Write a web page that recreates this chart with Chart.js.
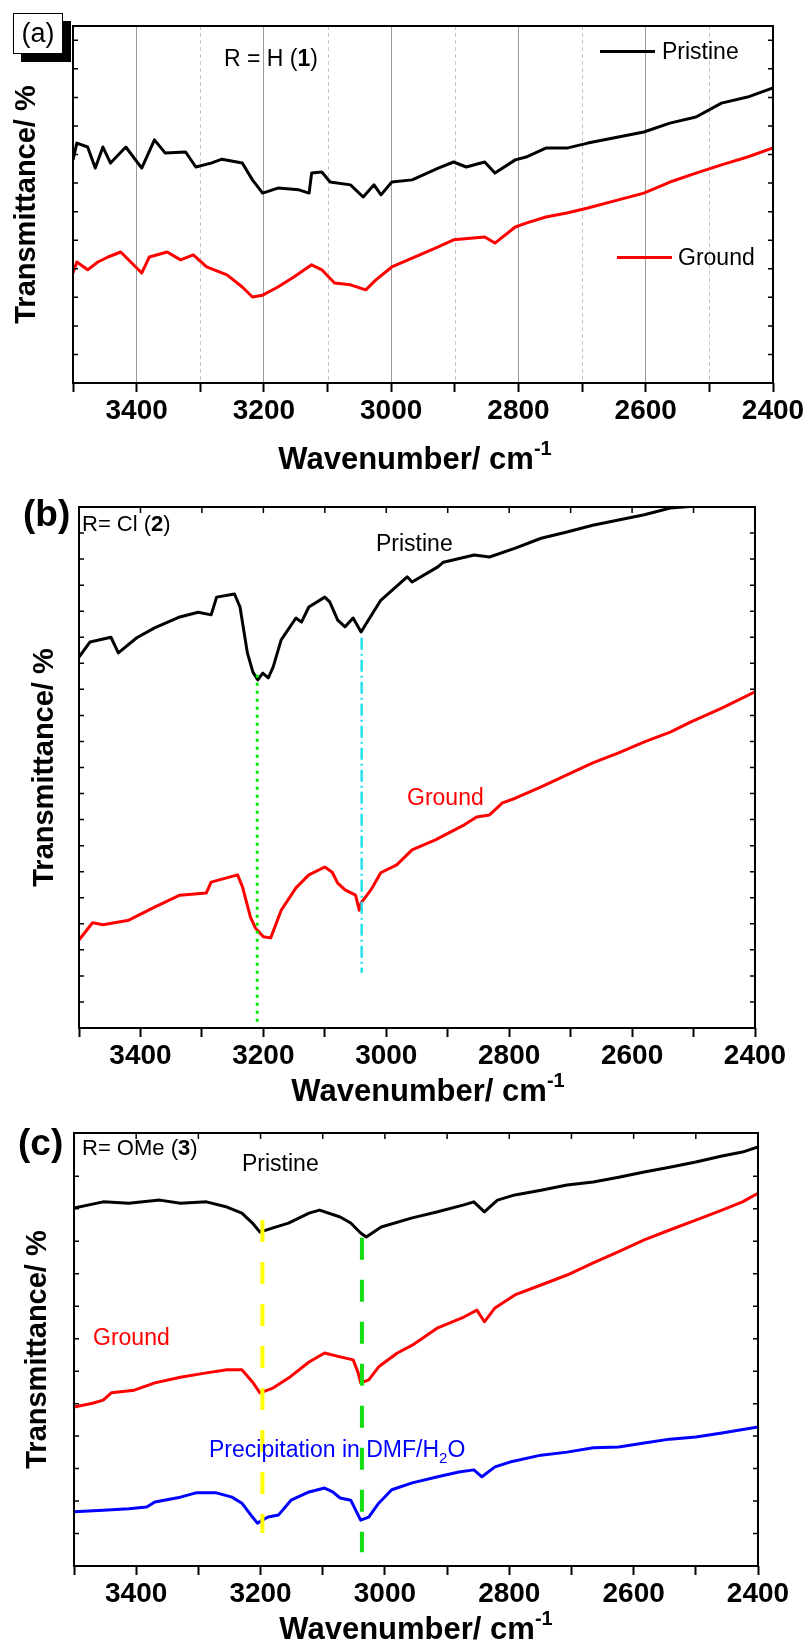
<!DOCTYPE html>
<html>
<head>
<meta charset="utf-8">
<script src="https://cdn.jsdelivr.net/npm/chart.js@4.4.1/dist/chart.umd.min.js"></script>
<style>
  html, body { margin: 0; padding: 0; background: #fff; }
  body { width: 808px; height: 1645px; position: relative; overflow: hidden;
         font-family: "Liberation Sans", Arial, sans-serif; }
  canvas { position: absolute; left: 0; }
  .t { position: absolute; white-space: nowrap; line-height: 1; color: #000; transform: translateY(-50%); }
  .xt { font-weight: bold; font-size: 31px; transform: translate(-50%, -50%); }
  .xt sup { font-size: 20px; vertical-align: 0; position: relative; top: -14px; }
  .ln { position: absolute; height: 3px; }
  .box { position: absolute; left: 13px; top: 13px; width: 50px; height: 41px; box-sizing: border-box;
         border: 1px solid #000; background: #fff; box-shadow: 8px 8px 0 #000;
         font-size: 27px; line-height: 39px; text-align: center; }
  sub { font-size: 15px; vertical-align: 0; position: relative; top: 6px; }
</style>
</head>
<body>
<canvas id="chartA" width="808" height="480" style="top:0px"></canvas>
<canvas id="chartB" width="808" height="635" style="top:480px"></canvas>
<canvas id="chartC" width="808" height="530" style="top:1115px"></canvas>

<div class="box">(a)</div>
<div class="t" style="left:224px;top:58px;font-size:23px">R = H (<b>1</b>)</div>
<div class="ln" style="left:600px;top:50px;width:55px;background:#000"></div>
<div class="t" style="left:662px;top:51px;font-size:23px">Pristine</div>
<div class="ln" style="left:617px;top:256px;width:55px;background:#f00"></div>
<div class="t" style="left:678px;top:257px;font-size:23px">Ground</div>
<div class="t xt" style="left:415px;top:458px">Wavenumber/ cm<sup>-1</sup></div>

<div class="t" style="left:23px;top:513px;font-size:37px;font-weight:bold">(b)</div>
<div class="t" style="left:82px;top:524px;font-size:22px">R= Cl (<b>2</b>)</div>
<div class="t" style="left:376px;top:543px;font-size:23px">Pristine</div>
<div class="t" style="left:407px;top:797px;font-size:23px;color:#f00">Ground</div>
<div class="t xt" style="left:428px;top:1090px">Wavenumber/ cm<sup>-1</sup></div>

<div class="t" style="left:18px;top:1142px;font-size:37px;font-weight:bold">(c)</div>
<div class="t" style="left:82px;top:1148px;font-size:22px">R= OMe (<b>3</b>)</div>
<div class="t" style="left:242px;top:1163px;font-size:23px">Pristine</div>
<div class="t" style="left:93px;top:1337px;font-size:23px;color:#f00">Ground</div>
<div class="t" style="left:209px;top:1449px;font-size:23px;color:#00f">Precipitation in DMF/H<sub>2</sub>O</div>
<div class="t xt" style="left:416px;top:1628px">Wavenumber/ cm<sup>-1</sup></div>

<script>
// x axis: wavenumber (cm-1), y: transmittance (a.u., % of panel height)
const xTickStep = 100;
const minorGridA = [3300, 3100, 2900, 2700, 2500];

// (a) R = H
const aPristineWn = [3500,3494,3477,3465,3453,3441,3417,3392,3372,3355,3323,3307,3283,3266,3234,3218,3202,3178,3145,3129,3125,3109,3096,3064,3044,3027,3016,2999,2967,2926,2902,2882,2853,2837,2805,2788,2757,2724,2691,2643,2603,2562,2521,2481,2440,2401];
const aPristineT  = [62.5,67.2,66.1,60.2,66.1,61.6,66.1,60.2,68.1,64.4,64.7,60.5,61.6,62.7,61.6,56.9,53.2,54.6,54.1,53.2,58.8,59.1,56.3,55.5,52.1,55.5,52.7,56.3,56.9,60.2,61.9,60.5,61.9,58.8,62.5,63.3,65.8,65.8,67.2,68.9,70.3,72.8,74.5,78.4,80.1,82.6];
const aGroundWn = [3500,3494,3477,3461,3445,3425,3392,3380,3352,3331,3311,3290,3258,3234,3218,3202,3178,3153,3125,3109,3089,3064,3040,3024,2999,2967,2926,2902,2853,2837,2805,2788,2757,2724,2691,2643,2603,2562,2521,2481,2440,2401];
const aGroundT  = [30.8,33.9,31.7,33.9,35.3,36.7,30.8,35.3,36.7,34.5,35.9,32.5,30.3,26.9,24.1,24.6,26.9,29.7,33.1,31.7,28.0,27.5,26.1,28.9,32.5,35.0,38.1,40.1,40.9,39.2,43.7,44.8,46.5,47.6,49.0,51.3,53.2,56.3,58.8,61.1,63.3,65.8];

// (b) R = Cl
const bPristineWn = [3500,3482,3448,3436,3406,3377,3336,3306,3285,3276,3247,3238,3226,3217,3209,3201,3192,3184,3171,3147,3138,3126,3100,3092,3079,3067,3054,3041,3029,3009,2966,2958,2916,2907,2857,2832,2790,2748,2706,2664,2622,2580,2538,2496];
const bPristineT  = [71.2,74.1,75.0,72.0,74.9,76.8,78.9,79.8,79.3,82.7,83.3,80.8,72.0,68.3,66.8,68.1,67.2,69.3,74.5,78.7,77.9,80.8,82.7,81.8,78.3,77.0,78.7,76.0,78.3,82.1,86.6,85.6,88.5,89.4,90.8,90.4,92.1,94.0,95.2,96.5,97.5,98.5,99.8,100.2];
const bGroundWn = [3500,3478,3461,3419,3377,3336,3293,3285,3242,3234,3221,3213,3200,3188,3171,3147,3126,3100,3088,3079,3067,3050,3044,3041,3025,3009,2983,2958,2920,2899,2873,2853,2832,2811,2790,2748,2706,2664,2622,2580,2538,2505,2454,2400];
const bGroundT  = [16.9,20.2,19.8,20.7,23.2,25.5,25.9,28.0,29.4,27.1,21.3,19.2,17.5,17.3,22.6,26.9,29.4,30.9,29.9,27.8,26.5,25.5,22.6,24.0,26.5,29.8,31.3,34.2,36.1,37.4,39.0,40.5,40.9,43.2,44.1,46.3,48.6,50.9,52.8,54.9,56.8,58.7,61.4,64.5];
const bMarkWn   = [3210, 3040];
const bMarkFrom = [67.8, 74.9];
const bMarkTo   = [0.5, 10.6];

// (c) R = OMe
const cPristineWn = [3500,3453,3412,3362,3329,3287,3254,3230,3213,3201,3180,3155,3122,3105,3072,3055,3039,3030,3006,2956,2915,2873,2857,2840,2819,2791,2749,2707,2665,2624,2583,2542,2500,2458,2425,2400];
const cPristineT  = [82.7,84.1,83.8,84.5,83.8,84.1,82.9,81.5,79.2,77.1,78.1,79.2,81.5,82.2,80.6,79.2,76.9,76.0,78.3,80.4,81.8,83.4,84.1,81.8,84.5,85.7,86.8,88.0,88.7,89.8,91.0,92.1,93.3,94.7,95.6,96.8];
const cGroundWn = [3500,3470,3453,3440,3403,3370,3329,3287,3254,3230,3213,3201,3180,3155,3122,3097,3072,3051,3043,3039,3026,3010,2980,2956,2915,2873,2852,2840,2823,2791,2749,2707,2665,2624,2583,2542,2500,2458,2425,2400];
const cGroundT  = [36.7,37.6,38.3,40.0,40.6,42.3,43.6,44.6,45.3,45.3,42.5,40.0,41.1,43.4,47.1,49.2,48.3,47.6,44.6,42.3,43.0,46.0,49.2,51.0,55.0,57.5,59.1,56.4,59.6,62.6,64.9,67.2,70.0,72.6,75.3,77.6,79.9,82.2,84.1,86.1];
const cPrecipWn = [3500,3453,3412,3383,3370,3329,3304,3271,3246,3230,3213,3205,3188,3171,3151,3122,3097,3084,3072,3055,3047,3039,3026,3010,2989,2956,2915,2881,2857,2844,2823,2799,2749,2707,2665,2624,2583,2542,2500,2458,2400];
const cPrecipT  = [12.5,12.9,13.2,13.6,14.8,15.9,16.9,16.9,15.9,14.5,11.3,9.9,11.3,11.8,15.2,17.1,18.0,17.1,15.7,15.2,12.9,10.6,11.3,14.5,17.6,19.2,20.6,21.7,22.2,20.6,22.9,24.0,25.6,26.3,27.3,27.5,28.4,29.3,29.8,30.7,32.1];
const cMarkWn   = [3197, 3037];
const cMarkFrom = [79.9, 75.8];
const cMarkTo   = [7.6, 3.2];

const FONT = '"Liberation Sans", Arial, sans-serif';
Chart.defaults.font.family = FONT;

function pts(wn, t) {
  return wn.map((w, i) => ({ x: w, y: t[i] }));
}
function curve(wn, t, color) {
  return { data: pts(wn, t), borderColor: color, borderWidth: 3, pointRadius: 0, tension: 0,
           borderJoinStyle: 'round', order: 1 };
}
function marker(wn, from, to, color, dash, width) {
  return { data: [{ x: wn, y: from }, { x: wn, y: to }], borderColor: color, borderWidth: width,
           borderDash: dash, pointRadius: 0, order: 0 };
}

// closed frame, inward ticks on the other sides, dashed minor grid
const frameBox = {
  id: 'frameBox',
  beforeDatasetsDraw(chart, args, o) {
    if (!o.minorGrid) return;
    const { ctx, chartArea: a, scales: { x } } = chart;
    ctx.save();
    ctx.strokeStyle = '#c4c4c4';
    ctx.lineWidth = 1;
    ctx.setLineDash([4, 3]);
    o.minorGrid.forEach(v => {
      const px = Math.round(x.getPixelForValue(v)) + 0.5;
      ctx.beginPath(); ctx.moveTo(px, a.top); ctx.lineTo(px, a.bottom); ctx.stroke();
    });
    ctx.restore();
  },
  afterDatasetsDraw(chart, args, o) {
    const { ctx, chartArea: a, scales: { x, y } } = chart;
    ctx.save();
    ctx.strokeStyle = '#000';
    ctx.lineWidth = 1.5;
    ctx.beginPath();
    y.ticks.forEach(t => {
      const py = y.getPixelForValue(t.value);
      ctx.moveTo(a.left, py); ctx.lineTo(a.left + 5, py);
      ctx.moveTo(a.right - 5, py); ctx.lineTo(a.right, py);
    });
    if (o.topTicks) {
      x.ticks.forEach(t => {
        const px = x.getPixelForValue(t.value);
        ctx.moveTo(px, a.top); ctx.lineTo(px, a.top + 6);
      });
    }
    ctx.stroke();
    ctx.lineWidth = 2;
    ctx.strokeRect(a.left, a.top, a.right - a.left, a.bottom - a.top);
    ctx.restore();
  }
};

function makeChart(id, p) {
  new Chart(document.getElementById(id), {
    type: 'line',
    data: { datasets: p.datasets },
    plugins: [frameBox],
    options: {
      responsive: false,
      animation: false,
      layout: { padding: { top: p.top, right: p.right, left: 0, bottom: 0 } },
      plugins: {
        legend: { display: false },
        tooltip: { enabled: false },
        frameBox: { minorGrid: p.minorGrid || null, topTicks: !p.minorGrid }
      },
      scales: {
        x: {
          type: 'linear', reverse: true, min: 2400, max: 3500,
          ticks: {
            stepSize: xTickStep, autoSkip: false, maxRotation: 0, padding: 2, color: '#000',
            font: { size: 28, weight: 'bold' },
            callback: v => (v % 200 === 0 ? String(v) : '')
          },
          grid: {
            drawOnChartArea: !!p.minorGrid,
            color: c => (c.tick && c.tick.value % 200 === 0 && c.tick.value !== 2400 ? '#9a9a9a' : 'rgba(0,0,0,0)'),
            lineWidth: 1, tickColor: '#000', tickLength: 9, tickWidth: 2
          },
          border: { display: false },
          afterFit: s => { s.height = p.xh; }
        },
        y: {
          min: 0, max: 100,
          ticks: { display: false, stepSize: p.yStep },
          grid: { display: false },
          border: { display: false },
          title: { display: true, text: 'Transmittance/ %', color: '#000',
                   font: { size: 29, weight: 'bold' }, padding: { top: p.titlePad, bottom: 0 } },
          afterFit: s => { s.width = p.left; }
        }
      }
    }
  });
}

makeChart('chartA', {
  top: 26, right: 35, left: 73, xh: 97, yStep: 8, titlePad: 10, minorGrid: minorGridA,
  datasets: [
    curve(aPristineWn, aPristineT, '#000000'),
    curve(aGroundWn, aGroundT, '#ff0000')
  ]
});

makeChart('chartB', {
  top: 27, right: 53, left: 79, xh: 87, yStep: 5, titlePad: 28,
  datasets: [
    curve(bPristineWn, bPristineT, '#000000'),
    curve(bGroundWn, bGroundT, '#ff0000'),
    marker(bMarkWn[0], bMarkFrom[0], bMarkTo[0], '#00ee00', [3, 5], 3),
    marker(bMarkWn[1], bMarkFrom[1], bMarkTo[1], '#22e0f0', [12, 4, 2, 4], 2.5)
  ]
});

makeChart('chartC', {
  top: 18, right: 50, left: 74, xh: 79, yStep: 7.5, titlePad: 21,
  datasets: [
    curve(cPristineWn, cPristineT, '#000000'),
    curve(cGroundWn, cGroundT, '#ff0000'),
    curve(cPrecipWn, cPrecipT, '#0000ff'),
    marker(cMarkWn[0], cMarkFrom[0], cMarkTo[0], '#ffff00', [22, 20], 4),
    marker(cMarkWn[1], cMarkFrom[1], cMarkTo[1], '#11dd11', [22, 20], 4)
  ]
});
</script>
</body>
</html>
